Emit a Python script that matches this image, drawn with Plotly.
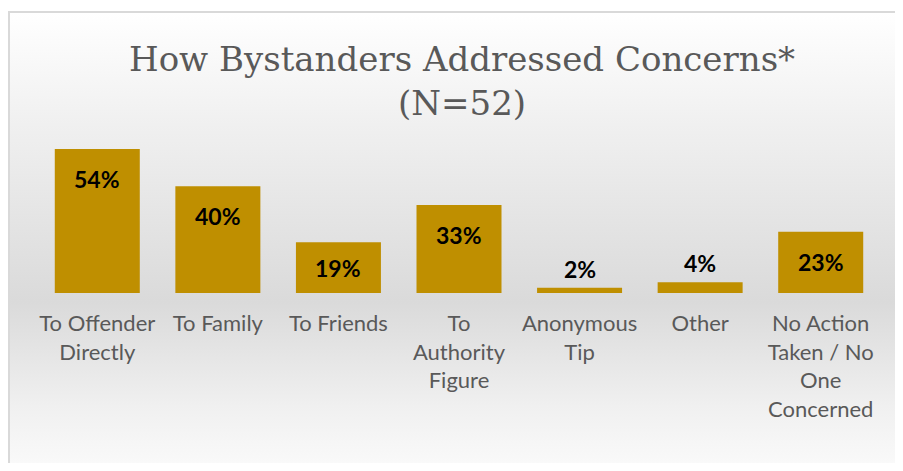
import base64
import plotly.graph_objects as go

categories = ["To Offender<br>Directly", "To Family", "To Friends", "To<br>Authority<br>Figure",
              "Anonymous<br>Tip", "Other", "No Action<br>Taken / No<br>One<br>Concerned"]
values = [54, 40, 19, 33, 2, 4, 23]
labels = ["54%", "40%", "19%", "33%", "2%", "4%", "23%"]

# figure is placed by the page at an 8px offset (default body margin)
W, H = 887, 455
BAR_COLOR = "#BF8F00"
TEXT_GRAY = "#595959"

svg = f'''<svg xmlns="http://www.w3.org/2000/svg" width="{W}" height="{H}" viewBox="0 0 {W} {H}" preserveAspectRatio="none">
<defs><linearGradient id="g" x1="0" y1="0" x2="0" y2="1">
<stop offset="0" stop-color="#ffffff"/>
<stop offset="0.22" stop-color="#f1f1f1"/>
<stop offset="0.61" stop-color="#dadada"/>
<stop offset="0.83" stop-color="#f0f0f0"/>
<stop offset="1" stop-color="#fdfdfd"/>
</linearGradient></defs>
<rect x="0" y="0" width="{W}" height="{H}" fill="#ffffff"/>
<rect x="1" y="4" width="{W+20}" height="{H+20}" fill="url(#g)" stroke="#d9d9d9" stroke-width="2"/>
</svg>'''
bg_uri = "data:image/svg+xml;base64," + base64.b64encode(svg.encode()).decode()

fig = go.Figure()
fig.add_trace(go.Bar(
    x=categories, y=values, marker=dict(color=BAR_COLOR, line=dict(width=0)),
    width=0.705, textposition="none", hoverinfo="skip",
))

px_per_unit = (285 - 125) / 60.0
for c, v, t in zip(categories, values, labels):
    h = v * px_per_unit
    if v >= 10:
        fig.add_annotation(x=c, y=v, text=f"<b>{t}</b>", showarrow=False,
                           yanchor="middle", yshift=-min(30, h / 2))
    else:
        fig.add_annotation(x=c, y=v, text=f"<b>{t}</b>", showarrow=False,
                           yanchor="bottom", yshift=3)

fig.update_annotations(font=dict(family="Lato", size=23, color="#000000"))

fig.add_annotation(xref="paper", yref="paper", x=454 / W, y=1 - 73.5 / H,
                   xanchor="center", yanchor="middle", showarrow=False,
                   text="How Bystanders Addressed Concerns*<br>(N=52)",
                   font=dict(family="DejaVu Serif", size=34, color=TEXT_GRAY))

fig.update_layout(
    width=W, height=H,
    margin=dict(l=0, r=0, t=0, b=0, autoexpand=False),
    paper_bgcolor="rgba(0,0,0,0)", plot_bgcolor="rgba(0,0,0,0)",
    showlegend=False,
    images=[dict(source=bg_uri, xref="paper", yref="paper", x=0, y=1,
                 sizex=1, sizey=1, sizing="stretch", xanchor="left", yanchor="top",
                 layer="below")],
    xaxis=dict(domain=[29 / W, 873 / W], showgrid=False, zeroline=False, showline=False,
               ticks="", tickfont=dict(family="Lato", size=22, color=TEXT_GRAY),
               ticklabelstandoff=15, fixedrange=True, automargin=False),
    yaxis=dict(domain=[(H - 285) / H, (H - 125) / H], range=[0, 60], visible=False,
               fixedrange=True),
    bargap=0.295,
)

fig.write_html("out.html", config={"displayModeBar": False})
